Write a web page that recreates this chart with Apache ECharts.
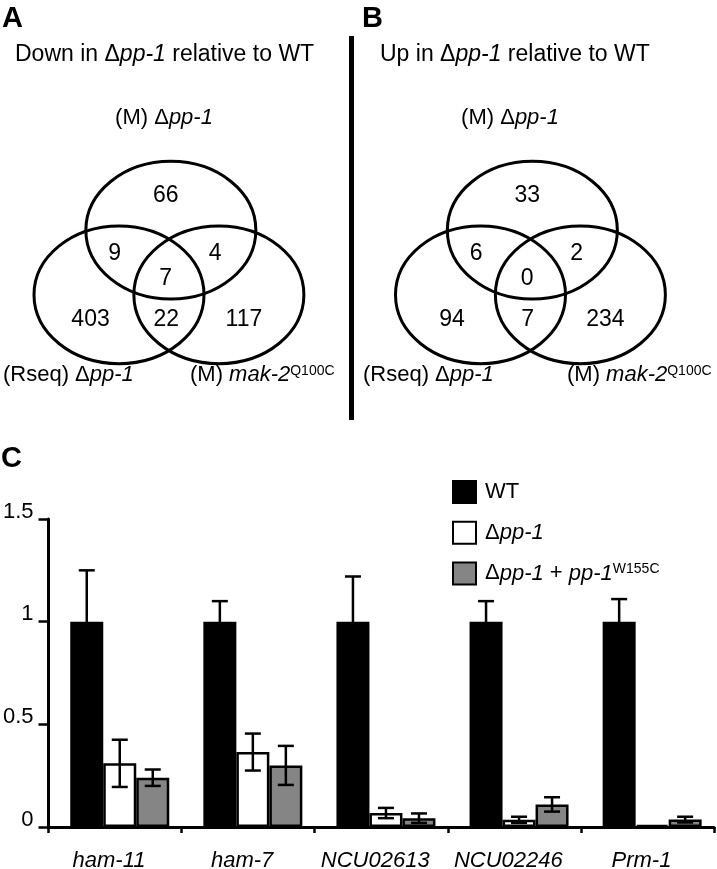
<!DOCTYPE html>
<html><head><meta charset="utf-8">
<script src="https://cdn.jsdelivr.net/npm/echarts@6/dist/echarts.min.js"></script>
<style>html,body{margin:0;padding:0;background:#fff}#c{width:717px;height:869px}</style>
</head><body><div id="c"></div>
<script>
// ---------- DATA ----------
const genes = ['ham-11', 'ham-7', 'NCU02613', 'NCU02246', 'Prm-1'];
const seriesNames = ['WT', 'Δpp-1', 'Δpp-1 + pp-1 W155C'];
const wtValues = [1, 1, 1, 1, 1];
const wtErrors = [0.25, 0.10, 0.22, 0.10, 0.11];
const ppValues = [0.31, 0.365, 0.068, 0.035, 0.01];
const ppErrors = [0.115, 0.09, 0.025, 0.015, 0];
const compValues = [0.24, 0.30, 0.043, 0.11, 0.036];
const compErrors = [0.04, 0.095, 0.023, 0.035, 0.014];
const yTickLabels = ['0', '0.5', '1', '1.5'];
const vennRegions = ['M only', 'M & Rseq', 'M & mak-2', 'all three', 'Rseq only', 'Rseq & mak-2', 'mak-2 only'];
const vennDownCounts = [66, 9, 4, 7, 403, 22, 117];
const vennUpCounts = [33, 6, 2, 0, 94, 7, 234];

// ---------- LAYOUT / STYLE ----------
const FONT = '"Liberation Sans", Arial, Helvetica, sans-serif';
const BAR_W = 33, CAP = 8;
const ELL_RX = 1.0, ELL_RY = 0.81;
const ellipseCenters = [[0.01, 0.38], [-0.6, -0.38], [0.575, -0.38]];
const regionPos = [[-0.05, 0.79], [-0.65, 0.10], [0.53, 0.10], [-0.05, -0.19], [-0.935, -0.675], [-0.045, -0.675], [0.87, -0.675]];

const RICH = {
  i: { fontSize: 22, fontStyle: 'italic', fontFamily: FONT, fill: '#000', color: '#000' },
  s: { fontSize: 14, fontFamily: FONT, fill: '#000', color: '#000', verticalAlign: 'top' }
};
const legendRich = {
  i: { fontSize: 22, fontStyle: 'italic', fontFamily: FONT, color: '#000' },
  s: { fontSize: 14, fontFamily: FONT, color: '#000', verticalAlign: 'top' }
};

function txt(x, y, text, opts) {
  opts = opts || {};
  return {
    type: 'text', x: x, y: y, z: 100,
    style: Object.assign({
      text: text, fontSize: 22, fontFamily: FONT, fill: '#000',
      align: 'left', verticalAlign: 'middle', rich: RICH
    }, opts)
  };
}

const chart = echarts.init(document.getElementById('c'), null, { renderer: 'canvas' });

const errData = [];
[[wtValues, wtErrors], [ppValues, ppErrors], [compValues, compErrors]].forEach((pair, k) => {
  pair[0].forEach((v, i) => errData.push([i, k, v, pair[1][i]]));
});

function vennSeries(counts, gi) {
  return [{
    type: 'custom', xAxisIndex: gi, yAxisIndex: gi, silent: true,
    data: ellipseCenters.map(c => [c[0], c[1]]),
    renderItem: (p, api) => {
      const c = api.coord([api.value(0), api.value(1)]);
      const s = api.size([ELL_RX, ELL_RY]);
      return { type: 'ellipse', shape: { cx: c[0], cy: c[1], rx: s[0], ry: s[1] },
        style: { fill: 'none', stroke: '#000', lineWidth: 3 } };
    }
  }, {
    type: 'custom', xAxisIndex: gi, yAxisIndex: gi, silent: true, z: 5,
    data: counts.map((n, i) => [regionPos[i][0], regionPos[i][1], n]),
    renderItem: (p, api) => {
      const c = api.coord([api.value(0), api.value(1)]);
      return { type: 'text', x: c[0], y: c[1],
        style: { text: String(api.value(2)), fontSize: 23, fontFamily: FONT, fill: '#000', align: 'center', verticalAlign: 'middle' } };
    }
  }];
}

const hiddenVal = (min, max, gi) => ({ type: 'value', gridIndex: gi, min: min, max: max, show: false });

const option = {
  animation: false,
  backgroundColor: '#fff',
  grid: [
    { left: 48.5, top: 519, width: 665.5, height: 308, outerBoundsMode: 'none', containLabel: false },   // axes of C
    { left: 53.2, top: 519, width: 665.5, height: 308, outerBoundsMode: 'none', containLabel: false },   // bars of C
    { left: 34, top: 152, width: 272, height: 221, outerBoundsMode: 'none', containLabel: false },       // Venn A
    { left: 395.5, top: 152, width: 272, height: 221, outerBoundsMode: 'none', containLabel: false }     // Venn B
  ],
  xAxis: [
    { type: 'category', gridIndex: 0, data: genes, boundaryGap: true,
      axisLine: { lineStyle: { color: '#000', width: 3 } },
      axisTick: { show: true, length: 6, lineStyle: { color: '#000', width: 2.5 } },
      axisLabel: { interval: 0, fontSize: 22, fontStyle: 'italic', fontFamily: FONT, color: '#000', margin: 23, padding: [0, 12, 0, 0] } },
    { type: 'category', gridIndex: 1, data: genes, show: false },
    hiddenVal(-1.6, 1.6, 2),
    hiddenVal(-1.6, 1.6, 3)
  ],
  yAxis: [
    { type: 'value', gridIndex: 0, min: 0, max: 1.5, interval: 0.5,
      splitLine: { show: false },
      axisLine: { show: true, lineStyle: { color: '#000', width: 3 } },
      axisTick: { show: true, length: 10, lineStyle: { color: '#000', width: 2.5 } },
      axisLabel: { fontSize: 22, fontFamily: FONT, color: '#000', margin: 15,
        verticalAlign: 'bottom', lineHeight: 15,
        formatter: v => yTickLabels[Math.round(v / 0.5)] } },
    { type: 'value', gridIndex: 1, min: 0, max: 1.5, show: false },
    hiddenVal(-1.3, 1.3, 2),
    hiddenVal(-1.3, 1.3, 3)
  ],
  legend: {
    orient: 'vertical', left: 447, top: 475, itemWidth: 23, itemHeight: 22, itemGap: 16.7,
    icon: 'rect', data: seriesNames,
    textStyle: { fontSize: 22, fontFamily: FONT, color: '#000', rich: legendRich, padding: [0, 0, 0, 4] },
    formatter: name => {
      if (name === seriesNames[0]) return 'WT';
      if (name === seriesNames[1]) return 'Δ{i|pp-1}';
      return 'Δ{i|pp-1} + {i|pp-1}{s|W155C}';
    }
  },
  series: [
    { name: seriesNames[0], type: 'bar', xAxisIndex: 1, yAxisIndex: 1, data: wtValues, barWidth: BAR_W, barGap: '0%',
      itemStyle: { color: '#000', borderColor: '#000', borderWidth: 2.5 } },
    { name: seriesNames[1], type: 'bar', xAxisIndex: 1, yAxisIndex: 1, data: ppValues, barWidth: BAR_W, barGap: '0%',
      itemStyle: { color: '#fff', borderColor: '#000', borderWidth: 2.5 } },
    { name: seriesNames[2], type: 'bar', xAxisIndex: 1, yAxisIndex: 1, data: compValues, barWidth: BAR_W, barGap: '0%',
      itemStyle: { color: '#858585', borderColor: '#000', borderWidth: 2.5 } },
    { type: 'custom', xAxisIndex: 1, yAxisIndex: 1, z: 10, silent: true, data: errData,
      encode: { x: 0, y: 2 },
      renderItem: (p, api) => {
        const cat = api.value(0), k = api.value(1), v = api.value(2), e = api.value(3);
        if (!e) return null;
        const t = api.coord([cat, v + e]);
        const b = api.coord([cat, Math.max(0, v - e)]);
        const x = t[0] + (k - 1) * BAR_W;
        const st = { stroke: '#000', lineWidth: 2.5 };
        return { type: 'group', children: [
          { type: 'line', shape: { x1: x, y1: t[1], x2: x, y2: b[1] }, style: st },
          { type: 'line', shape: { x1: x - CAP, y1: t[1], x2: x + CAP, y2: t[1] }, style: st },
          { type: 'line', shape: { x1: x - CAP, y1: b[1], x2: x + CAP, y2: b[1] }, style: st }
        ] };
      } }
  ].concat(vennSeries(vennDownCounts, 2), vennSeries(vennUpCounts, 3)),
  graphic: { elements: [
    txt(2, 19, 'A', { fontSize: 29, fontWeight: 'bold' }),
    txt(362, 19, 'B', { fontSize: 29, fontWeight: 'bold' }),
    txt(1, 459, 'C', { fontSize: 29, fontWeight: 'bold' }),
    txt(15, 55, 'Down in Δ{i|pp-1} relative to WT', { fontSize: 23, rich: { i: Object.assign({}, RICH.i, { fontSize: 23 }) } }),
    txt(380, 55, 'Up in Δ{i|pp-1} relative to WT', { fontSize: 23, rich: { i: Object.assign({}, RICH.i, { fontSize: 23 }) } }),
    txt(164, 118, '(M) Δ{i|pp-1}', { align: 'center' }),
    txt(510, 118, '(M) Δ{i|pp-1}', { align: 'center' }),
    txt(3, 375, '(Rseq) Δ{i|pp-1}'),
    txt(363, 375, '(Rseq) Δ{i|pp-1}'),
    txt(190, 375, '(M) {i|mak-2}{s|Q100C}'),
    txt(567, 375, '(M) {i|mak-2}{s|Q100C}'),
    { type: 'line', z: 100, shape: { x1: 351.5, y1: 36, x2: 351.5, y2: 420 }, style: { stroke: '#000', lineWidth: 5 } }
  ] }
};
chart.setOption(option);
</script>
</body></html>
